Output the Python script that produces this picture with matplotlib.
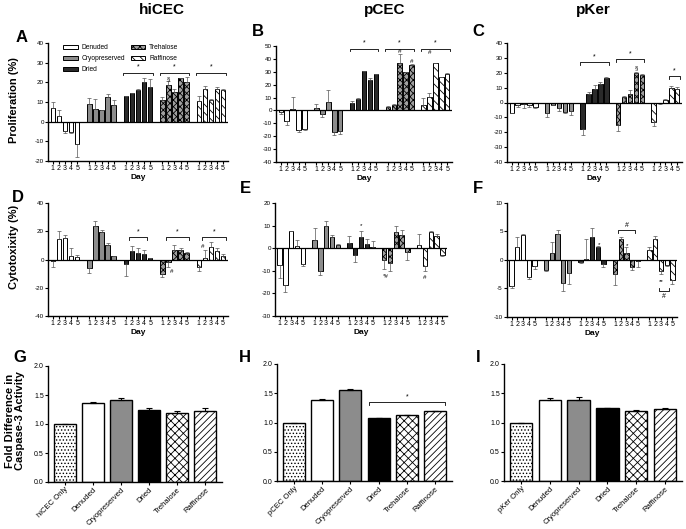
import matplotlib
matplotlib.use('Agg')
import matplotlib.pyplot as plt
from matplotlib.patches import Patch

plt.rcParams['hatch.linewidth'] = 0.6
plt.rcParams['axes.unicode_minus'] = False
plt.rcParams['font.family'] = ['Liberation Sans', 'DejaVu Sans']

W, H = 686, 529

days = [1, 2, 3, 4, 5]
groups = ['Denuded', 'Cryopreserved', 'Dried', 'Trehalose', 'Raffinose']

# proliferation (%) - one row per group, days 1..5
prolif_hicec = [[7, 3, -4.5, -5, -11.5], [9, 6.5, 5.8, 12.5, 8.5], [13, 14.5, 16, 20, 17.5],
                [11, 18.5, 15, 22, 20], [10.5, 16.5, 11, 16.5, 16]]
prolif_hicec_err = [[3, 3, 1.5, 1, 6.5], [3, 5, 0.3, 1.5, 2.5], [0.3, 0.3, 0.5, 2, 4],
                    [1.5, 2, 1.5, 0.3, 2.5], [2.5, 1.5, 0.5, 1, 0.5]]
prolif_pcec = [[-1, -8.5, 1.5, -15.5, -14.5], [2, -3, 6.5, -17, -16], [6, 8.5, 30.5, 24, 28],
               [3, 4, 36.5, 29.5, 35.5], [4, 10.5, 36.5, 26, 28.5]]
prolif_pcec_err = [[2, 2.5, 9, 1.5, 0.5], [3, 2, 9, 2, 2], [1, 1.5, 0.3, 1, 0.3],
                   [0.3, 1, 7.5, 0.3, 0.5], [5.5, 3, 0.3, 0.3, 0.3]]
prolif_pker = [[-7, -2, -1, -1.5, -3], [-7, -1.5, -3.5, -6.5, -5.5], [-18, 6, 9, 12.5, 16.5],
               [-15, 4, 5.5, 19.5, 18.5], [-13, -0.5, 2, 10, 9]]
prolif_pker_err = [[0.3, 1, 2.5, 1.5, 0.5], [2.5, 0.3, 2.5, 0.5, 3], [4, 1, 3, 1.5, 0.5],
                   [4, 0.5, 3, 1, 0.5], [3, 0.2, 0.2, 1, 1.5]]

# cytotoxicity (%)
cyto_hicec = [[-1, 14.5, 15, 2.5, 2], [-6, 23.5, 19.5, 10.5, 2.5], [-3.5, 6, 4.5, 4, 0.8],
              [-10, -1.5, 6.5, 6.5, 4.5], [-5.5, 1, 9, 6, 2.5]]
cyto_hicec_err = [[4, 5.5, 2.5, 5.5, 1], [3.5, 4, 1.5, 1.5, 0.3], [8, 3.5, 3.5, 3, 0.2],
                  [2.5, 3.5, 3.5, 1.5, 0.5], [2.5, 6, 3.5, 2, 1.5]]
cyto_pcec = [[-7.5, -16.5, 7.5, 1, -7], [3.5, -10, 10, 5, 1.5], [2.5, -3, 5, 2, 0.5],
             [-5, -6.5, 7, 6, -1.5], [1.5, -8, 7, 5.5, -3]]
cyto_pcec_err = [[5.5, 3, 0.3, 2.5, 1], [5.5, 2, 2, 1, 0.3], [3, 3, 2.5, 2, 2.5],
                 [4, 3.5, 3, 2, 3.5], [5, 2, 0.5, 1, 0.5]]
cyto_pker = [[-4.5, 2.3, 4.3, -3, -1], [-1.8, 1.2, 4.5, -4, -2.2], [-0.3, 0.2, 4, 2.2, -0.7],
             [-2.4, 3.6, 1.2, -1.2, -0.2], [1.8, 3.7, -2, -0.8, -3.5]]
cyto_pker_err = [[0.5, 1.7, 0.2, 0.3, 0.5], [0.2, 2, 0.7, 1.5, 2], [0.2, 3.5, 1.7, 0.2, 0.6],
                 [1.9, 0.5, 1, 0.6, 1.1], [0.4, 0.5, 0.5, 0.3, 0.7]]

# caspase-3 fold difference
casp_groups = ['Denuded', 'Cryopreserved', 'Dried', 'Trehalose', 'Raffinose']
casp_hicec = [1.0, 1.36, 1.42, 1.25, 1.19, 1.23]
casp_hicec_err = [0, 0.02, 0.02, 0.03, 0.03, 0.04]
casp_pcec = [1.0, 1.39, 1.55, 1.07, 1.13, 1.19]
casp_pcec_err = [0, 0.005, 0.03, 0.01, 0.005, 0.01]
casp_pker = [1.0, 1.38, 1.39, 1.24, 1.19, 1.23]
casp_pker_err = [0, 0.04, 0.04, 0.01, 0.03, 0.02]

# bar styles (face, hatch)
styles = [('white', ''), ('#8c8c8c', ''), ('#2a2a2a', ''), ('#a0a0a0', 'xxxxx'), ('white', '\\\\\\\\')]
casp_styles = [('white', '.....'), ('white', ''), ('#8c8c8c', ''), ('black', ''),
               ('white', 'xxxx'), ('white', '/////')]


def axes_px(left, top, right, bottom):
    return fig.add_axes([left / W, 1 - bottom / H, (right - left) / W, (bottom - top) / H])


def bracket(ax, x1, x2, y, text, h, down=False):
    s = -1 if down else 1
    ax.plot([x1, x1, x2, x2], [y - s * h, y, y, y - s * h], color='black', lw=0.6)
    ax.text((x1 + x2) / 2, y + s * h * 0.6, text, ha='center', va='bottom' if not down else 'top',
            fontsize=5)


def day_panel(ax, vals, errs, ylim, step, brackets=(), marks=()):
    for g in range(5):
        xs = [g * 6 + d - 1 for d in days]
        lo = [e if v < 0 else 0 for v, e in zip(vals[g], errs[g])]
        hi = [e if v >= 0 else 0 for v, e in zip(vals[g], errs[g])]
        fc, ht = styles[g]
        ax.bar(xs, vals[g], width=0.75, color=fc, edgecolor='black', linewidth=0.7, hatch=ht,
               yerr=[lo, hi], error_kw=dict(elinewidth=0.5, capsize=1.2, capthick=0.5, ecolor='#555555'),
               zorder=2)
    ax.axhline(0, color='black', lw=0.9, zorder=3)
    ax.set_xlim(-0.8, 28.8)
    ax.set_ylim(*ylim)
    ax.set_yticks(range(ylim[0], ylim[1] + 1, step))
    ax.set_xticks([g * 6 + d - 1 for g in range(5) for d in days])
    ax.set_xticklabels([str(d) for g in range(5) for d in days])
    ax.tick_params(axis='x', labelsize=5, length=2, width=0.8, pad=1)
    ax.tick_params(axis='y', labelsize=4.5, length=2, width=0.8, pad=1)
    ax.set_xlabel('Day', fontsize=6, fontweight='bold', labelpad=1)
    h = (ylim[1] - ylim[0]) * 0.025
    for g, d1, d2, y, t, *dn in brackets:
        bracket(ax, g * 6 + d1 - 1.4, g * 6 + d2 - 0.6, y, t, h, down=bool(dn))
    for g, d, y, t in marks:
        ax.text(g * 6 + d - 1, y, t, ha='center', va='center', fontsize=4.5)
    for sp in ['top', 'right']:
        ax.spines[sp].set_visible(False)
    for sp in ['left', 'bottom']:
        ax.spines[sp].set_linewidth(1.0)


def casp_panel(ax, vals, errs, control, brackets=()):
    names = [control] + casp_groups
    xs = list(range(len(vals)))
    for i in xs:
        fc, ht = casp_styles[i]
        ax.bar(i, vals[i], width=0.78, color=fc, edgecolor='black', linewidth=1.0, hatch=ht,
               yerr=[[0], [errs[i]]], error_kw=dict(elinewidth=0.8, capsize=2, capthick=0.8),
               zorder=2)
    ax.set_xlim(-0.6, 5.6)
    ax.set_ylim(0, 2.0)
    ax.set_yticks([0, 0.5, 1.0, 1.5, 2.0])
    ax.set_yticklabels(['0.0', '0.5', '1.0', '1.5', '2.0'])
    ax.set_xticks(xs)
    ax.set_xticklabels(names, rotation=45, ha='right', rotation_mode='anchor')
    ax.tick_params(axis='x', labelsize=5.5, length=2, width=0.8, pad=1)
    ax.tick_params(axis='y', labelsize=5, length=2, width=0.8, pad=1)
    for x1, x2, y, t in brackets:
        bracket(ax, x1 - 0.35, x2 + 0.35, y, t, 0.05)
    for sp in ['top', 'right']:
        ax.spines[sp].set_visible(False)
    for sp in ['left', 'bottom']:
        ax.spines[sp].set_linewidth(1.0)


fig = plt.figure(figsize=(W / 100, H / 100), dpi=100)

axA = axes_px(48, 43, 228, 161)
day_panel(axA, prolif_hicec, prolif_hicec_err, (-20, 40), 10,
          brackets=[(2, 1, 5, 25, '*'), (3, 1, 5, 25, '*'), (4, 1, 5, 25, '*')],
          marks=[(3, 2, 22, '§')])
handles = [Patch(facecolor=styles[i][0], hatch=styles[i][1], edgecolor='black', lw=0.7, label=groups[i])
           for i in range(5)]
axA.legend(handles=handles, ncol=2, fontsize=4.8, frameon=False, loc='upper left',
           bbox_to_anchor=(0.05, 1.04), handlelength=2.2, handleheight=0.6, columnspacing=0.8,
           labelspacing=0.6, handletextpad=0.6)

axB = axes_px(276, 46, 452, 162)
day_panel(axB, prolif_pcec, prolif_pcec_err, (-40, 50), 10,
          brackets=[(2, 1, 5, 48, '*'), (3, 1, 5, 48, '*'), (4, 1, 5, 48, '*')],
          marks=[(3, 3, 46, '#'), (3, 5, 38, '#'), (4, 2, 45, '#')])

axC = axes_px(507, 43, 682, 162)
day_panel(axC, prolif_pker, prolif_pker_err, (-40, 40), 10,
          brackets=[(2, 1, 5, 27, '*'), (3, 1, 5, 29, '*'), (4, 4, 5, 18, '*')],
          marks=[(3, 4, 23, '§')])

axD = axes_px(48, 203, 228, 316)
day_panel(axD, cyto_hicec, cyto_hicec_err, (-40, 40), 20,
          brackets=[(2, 2, 4, 16, '*'), (3, 2, 5, 16, '*'), (4, 2, 5, 16, '*')],
          marks=[(3, 2.6, -8.5, '#'), (4, 1.6, 9, '#')])

axE = axes_px(275, 203, 447, 316)
day_panel(axE, cyto_pcec, cyto_pcec_err, (-30, 20), 10,
          marks=[(2, 3, 10, '*'), (3, 1.3, -12.5, '*#'), (4, 2, -13, '#')])

axF = axes_px(507, 203, 677, 317)
day_panel(axF, cyto_pker, cyto_pker_err, (-10, 10), 5,
          brackets=[(3, 2, 4, 5.2, '#'), (4, 3, 4, -5.5, '#', True)],
          marks=[(2, 4.3, 2.7, '*'), (3, 3.1, 2.5, '*'), (4, 3, -3.8, '**')])

axG = axes_px(48, 366, 222, 482)
casp_panel(axG, casp_hicec, casp_hicec_err, 'hiCEC Only')
axH = axes_px(277, 364, 452, 481)
casp_panel(axH, casp_pcec, casp_pcec_err, 'pCEC Only', brackets=[(3, 5, 1.35, '*')])
axI = axes_px(504, 364, 682, 481)
casp_panel(axI, casp_pker, casp_pker_err, 'pKer Only')

# column titles, panel letters, row labels
for txt, x in [('hiCEC', 162), ('pCEC', 385), ('pKer', 593)]:
    fig.text(x / W, 1 - 10 / H, txt, ha='center', va='center', fontsize=11, fontweight='bold')
for txt, x, y in [('A', 22, 38), ('B', 258, 32), ('C', 478, 32), ('D', 18, 198), ('E', 245, 188),
                  ('F', 478, 188), ('G', 20, 358), ('H', 245, 358), ('I', 478, 358)]:
    fig.text(x / W, 1 - y / H, txt, ha='center', va='center', fontsize=12, fontweight='bold')
fig.text(14 / W, 1 - 100 / H, 'Proliferation (%)', rotation=90, ha='center', va='center',
         fontsize=8, fontweight='bold')
fig.text(14 / W, 1 - 247 / H, 'Cytotoxixity (%)', rotation=90, ha='center', va='center',
         fontsize=8, fontweight='bold')
fig.text(15 / W, 1 - 421 / H, 'Fold Difference in\nCaspase-3 Activity', rotation=90, ha='center',
         va='center', fontsize=8, fontweight='bold', linespacing=1.1)

fig.savefig('out.png', dpi=100)
